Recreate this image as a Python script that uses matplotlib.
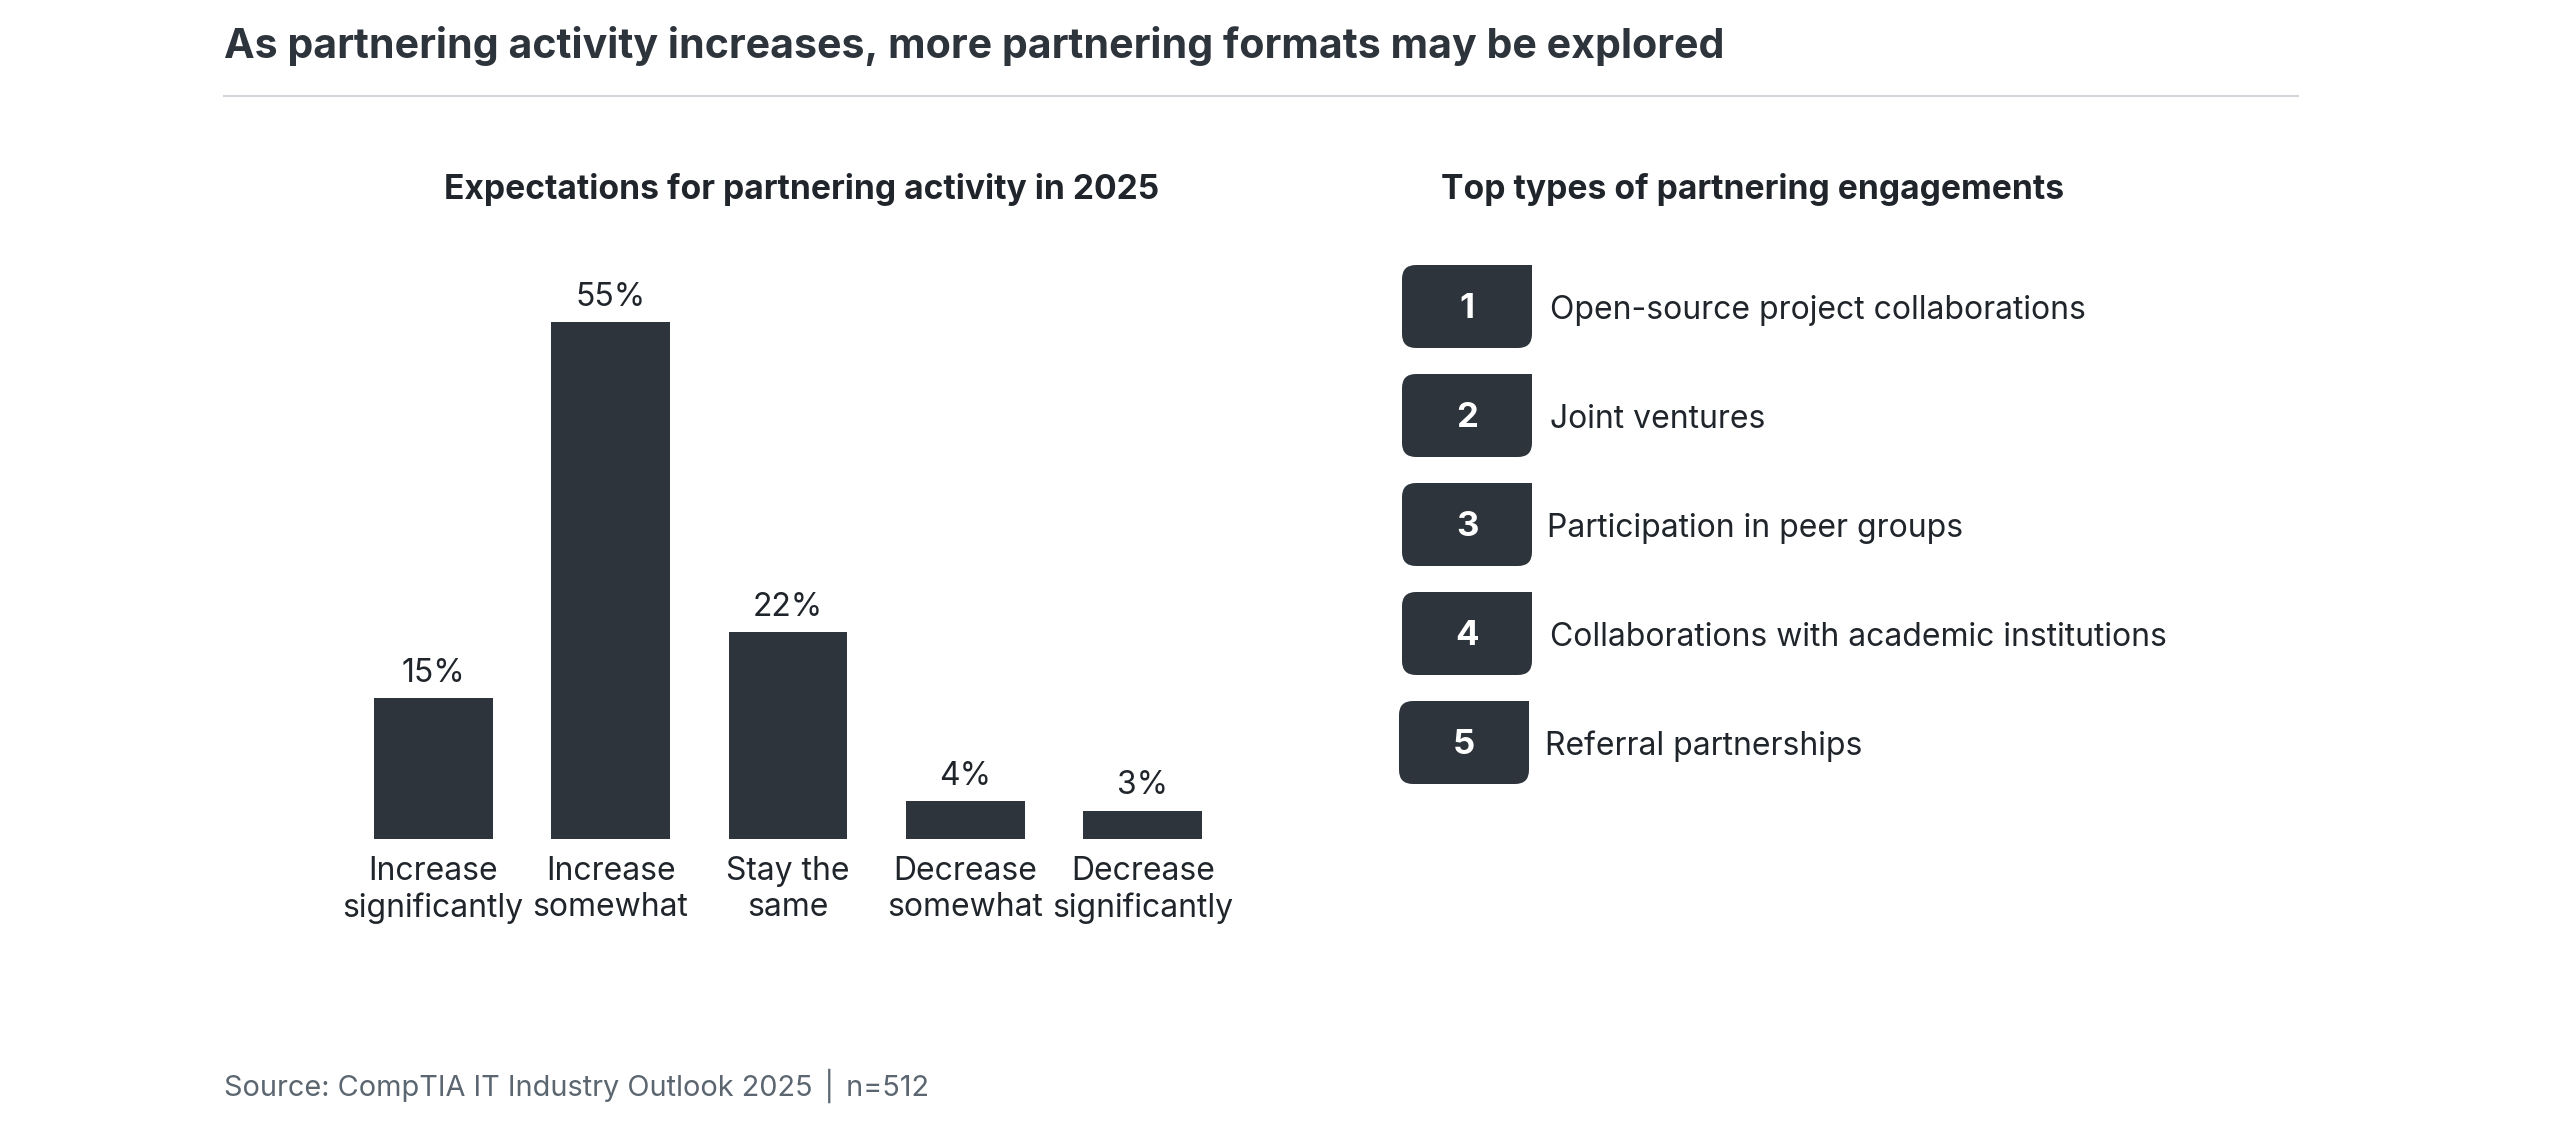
import matplotlib.pyplot as plt
from matplotlib.path import Path
from matplotlib.patches import PathPatch

plt.rcParams['font.family'] = ['Inter', 'DejaVu Sans']

# data
categories = ["Increase\nsignificantly", "Increase\nsomewhat", "Stay the\nsame",
              "Decrease\nsomewhat", "Decrease\nsignificantly"]
values = [15, 55, 22, 4, 3]
ranks = ["1", "2", "3", "4", "5"]
engagements = ["Open-source project collaborations", "Joint ventures",
               "Participation in peer groups",
               "Collaborations with academic institutions",
               "Referral partnerships"]

DARK = "#2d343b"
TXT = "#1f252b"
GREY = "#5b6670"
W, H = 2550, 1130

fig = plt.figure(figsize=(W / 100, H / 100), dpi=100)
fig.patch.set_facecolor("white")

# overlay in pixel coords (y down)
ov = fig.add_axes([0, 0, 1, 1])
ov.set_xlim(0, W)
ov.set_ylim(H, 0)
ov.axis("off")

ov.text(224, 46, "As partnering activity increases, more partnering formats may be explored",
        fontsize=29.6, fontweight="bold", color=DARK, va="center", ha="left")
ov.plot([224, 2298], [96, 96], color="#d3d6da", lw=1.5)
ov.text(802, 189, "Expectations for partnering activity in 2025", fontsize=24.2,
        fontweight="bold", color=TXT, ha="center", va="center")
ov.text(1753, 189, "Top types of partnering engagements", fontsize=24.2,
        fontweight="bold", color=TXT, ha="center", va="center")
ov.text(224, 1086, "Source: CompTIA IT Industry Outlook 2025 \u2502 n=512", fontsize=20.8,
        color=GREY, ha="left", va="center")


def badge(x, y, w, h, r):
    # rounded on three corners, square top-right
    verts = [(x + w, y), (x + w, y + h - r), (x + w, y + h), (x + w - r, y + h),
             (x + r, y + h), (x, y + h), (x, y + h - r), (x, y + r), (x, y),
             (x + r, y), (x + w, y), (x + w, y)]
    codes = [Path.MOVETO, Path.LINETO, Path.CURVE3, Path.CURVE3, Path.LINETO,
             Path.CURVE3, Path.CURVE3, Path.LINETO, Path.CURVE3, Path.CURVE3,
             Path.LINETO, Path.CLOSEPOLY]
    return PathPatch(Path(verts, codes), facecolor=DARK, edgecolor="none")


xs = [1402, 1402, 1402, 1402, 1399]
txs = [1550, 1550, 1547, 1550, 1545]
for i, (rk, lab) in enumerate(zip(ranks, engagements)):
    top = 265 + i * 109
    ov.add_patch(badge(xs[i], top, 130, 83, 14))
    ov.text(xs[i] + 65, top + 44, rk, fontsize=25, fontweight="bold", color="white",
            ha="center", va="center")
    ov.text(txs[i], top + 45, lab, fontsize=23, color=TXT, ha="left", va="center")

# bar chart
ax = fig.add_axes([344.5 / W, (H - 839) / H, 887 / W, 564 / H])
ax.bar(range(len(values)), values, width=0.67, color=DARK)
for i, v in enumerate(values):
    ax.text(i, v + 1.0, f"{v}%", ha="center", va="bottom", fontsize=23, color=TXT)
ax.set_xlim(-0.5, len(values) - 0.5)
ax.set_ylim(0, 60)
ax.set_xticks(range(len(values)))
ax.set_xticklabels(categories, fontsize=23, color=TXT, linespacing=1.24)
ax.tick_params(axis="x", length=0, pad=12)
ax.set_yticks([])
for s in ax.spines.values():
    s.set_visible(False)
ax.patch.set_alpha(0)

fig.savefig("out.png", dpi=100, facecolor="white")
